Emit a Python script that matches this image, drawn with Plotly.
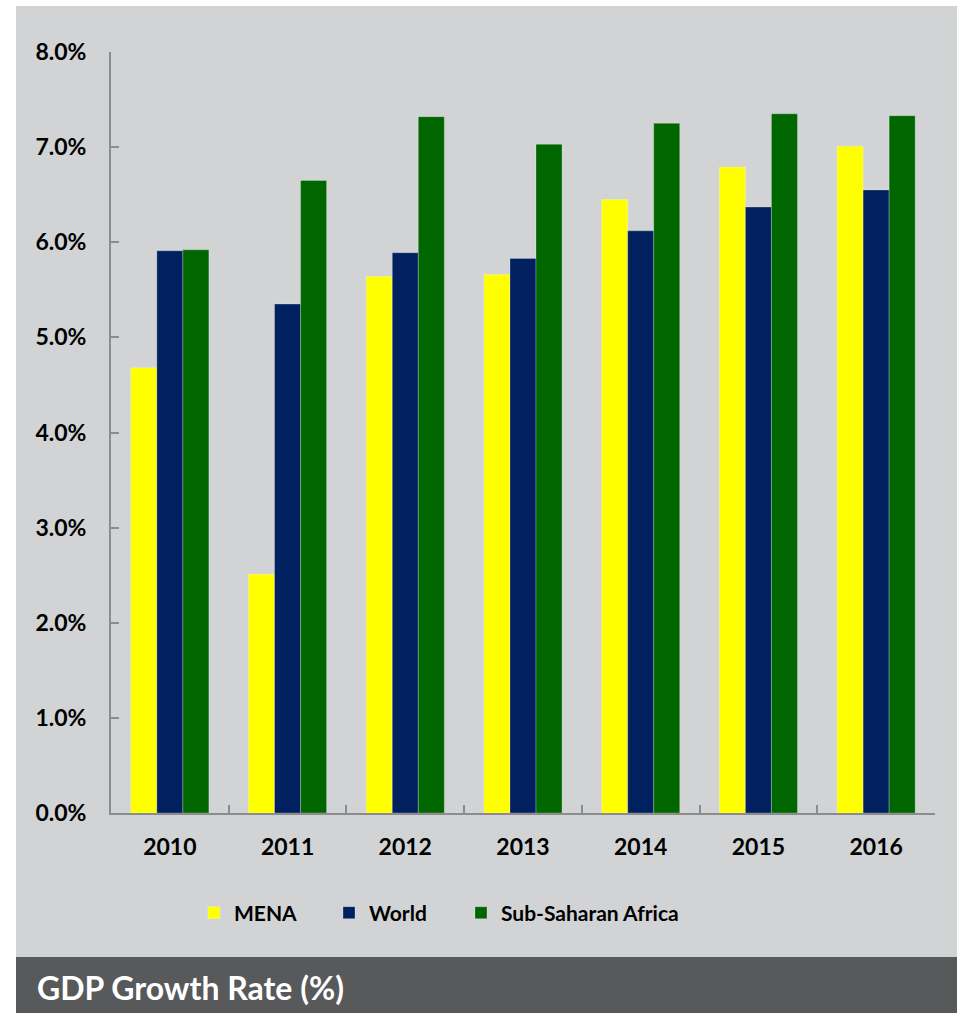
import plotly.graph_objects as go

# GDP growth by region, 2010-2016 (percent)
years = ["2010", "2011", "2012", "2013", "2014", "2015", "2016"]
mena = [4.68, 2.51, 5.64, 5.66, 6.45, 6.79, 7.01]
world = [5.91, 5.35, 5.89, 5.83, 6.12, 6.37, 6.55]
ssa = [5.92, 6.65, 7.32, 7.03, 7.25, 7.35, 7.33]

series_names = ["MENA", "World", "Sub-Saharan Africa"]
series_colors = ["#FFFF00", "#002060", "#006600"]

W, H = 957, 1013
ML, MR, MT, MB = 111, 22, 52, 200
PW, PH = W - ML - MR, H - MT - MB

def px_x(p):
    return (p - ML) / PW

def px_y(p):
    return (H - MB - p) / PH

FONT = "Lato"
AXIS_GREY = "#8C8C8C"
WEIGHT = "bold"

# each series gets its own legend box so the entries sit at fixed positions
legend_ids = ["legend", "legend2", "legend3"]
legend_left = [194, 329, 461]

fig = go.Figure()
for name, vals, col, lid in zip(series_names, [mena, world, ssa], series_colors, legend_ids):
    fig.add_trace(go.Bar(
        x=years, y=vals, name=name, legend=lid,
        marker=dict(color=col, line=dict(color="rgba(255,255,255,0.25)", width=1)),
    ))

# light grey panel behind the chart and the dark caption strip under it
fig.add_shape(type="rect", xref="paper", yref="paper", layer="below",
              x0=px_x(16), x1=px_x(W + 2), y0=px_y(957), y1=px_y(6),
              fillcolor="#D1D3D4", line=dict(width=0))
fig.add_shape(type="rect", xref="paper", yref="paper", layer="below",
              x0=px_x(16), x1=px_x(W + 2), y0=px_y(H + 2), y1=px_y(957),
              fillcolor="#58595B", line=dict(width=0))

fig.add_annotation(text="<b>GDP Growth Rate (%)</b>", xref="paper", yref="paper",
                   x=px_x(35), y=px_y(987), xanchor="left", yanchor="middle",
                   showarrow=False, font=dict(family=FONT, size=32, color="white"))

legend_style = dict(orientation="h", yanchor="middle", xanchor="left",
                    bgcolor="rgba(0,0,0,0)",
                    font=dict(family=FONT, size=21, color="black", weight=WEIGHT))
legends = {lid: dict(legend_style, x=px_x(lx), y=px_y(913))
           for lid, lx in zip(legend_ids, legend_left)}

fig.update_layout(
    width=W, height=H,
    margin=dict(l=ML, r=MR, t=MT, b=MB),
    paper_bgcolor="white", plot_bgcolor="rgba(0,0,0,0)",
    barmode="group", bargap=0.337, bargroupgap=0,
    font=dict(family=FONT, size=23, color="black", weight=WEIGHT),
    showlegend=True,
    **legends,
    xaxis=dict(type="category", showline=True, linecolor=AXIS_GREY, linewidth=2,
               ticks="inside", tickson="boundaries", ticklen=8, tickwidth=2,
               tickcolor=AXIS_GREY, showgrid=False, zeroline=False,
               ticklabelstandoff=12,
               tickfont=dict(family=FONT, size=23, color="black", weight=WEIGHT)),
    yaxis=dict(range=[0, 8], dtick=1, tickformat=".1f", ticksuffix="%",
               showline=True, linecolor=AXIS_GREY, linewidth=2,
               ticks="inside", ticklen=8, tickwidth=2, tickcolor=AXIS_GREY,
               showgrid=False, zeroline=False, ticklabelstandoff=18,
               tickfont=dict(family=FONT, size=23, color="black", weight=WEIGHT)),
)

fig.write_html("out.html")
